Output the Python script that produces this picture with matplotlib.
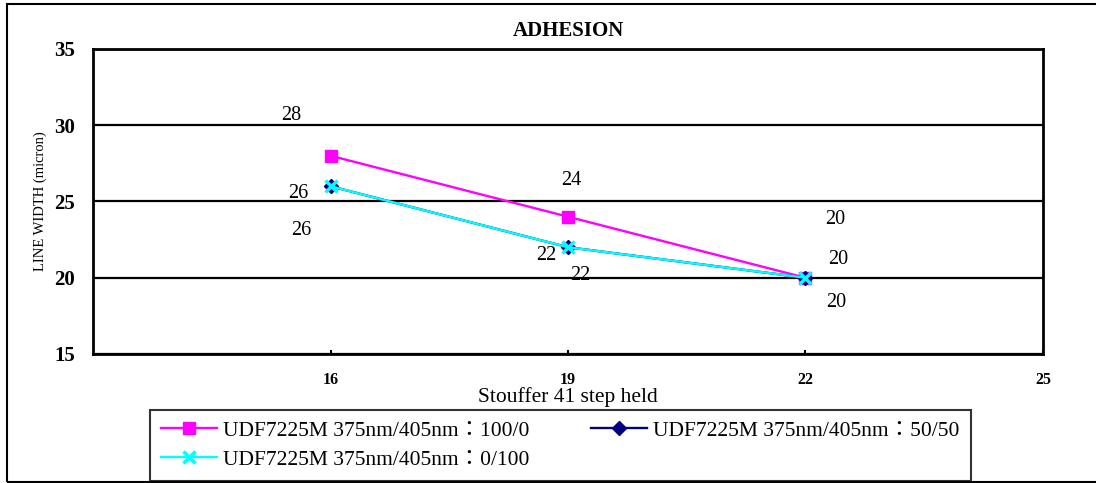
import matplotlib
matplotlib.use("Agg")
import matplotlib.pyplot as plt
from matplotlib.patches import Rectangle

plt.rcParams['font.family'] = ['Liberation Serif', 'Noto Sans CJK JP', 'DejaVu Sans']

# Data
steps = [16, 19, 22]
width_100_0 = [28, 24, 20]
width_50_50 = [26, 22, 20]
width_0_100 = [26, 22, 20]
series_names = [
    "UDF7225M 375nm/405nm\uff1a100/0",
    "UDF7225M 375nm/405nm\uff1a50/50",
    "UDF7225M 375nm/405nm\uff1a0/100",
]
x_ticks = [16, 19, 22, 25]
y_ticks = [15, 20, 25, 30, 35]

fig = plt.figure(figsize=(10.96, 4.83), dpi=100)
ax = fig.add_axes([0.0849, 0.2671, 0.8667, 0.6315])

l1, = ax.plot(steps, width_100_0, color="#ff00ff", lw=1.7, marker="s", ms=9, zorder=3)
l2, = ax.plot(steps, width_50_50, color="#000080", lw=1.7, marker="D", ms=7, zorder=4)
l3, = ax.plot(steps, width_0_100, color="#00ffff", lw=1.7, marker="x", ms=9, mew=2.5, zorder=5)

# data labels (offsets in points, as placed in the original)
off_100_0 = [(-28, 29), (2, 26), (21.5, 42)]
off_50_50 = [(-23, -5), (-16, -6), (23.5, 13)]
off_0_100 = [(-21, -32), (9, -20), (22, -18)]
for vals, offs in [(width_100_0, off_100_0), (width_50_50, off_50_50), (width_0_100, off_0_100)]:
    for x, y, o in zip(steps, vals, offs):
        ax.annotate(str(y), (x, y), xytext=o, textcoords="offset points",
                    ha="center", va="center", fontsize=14.5)

ax.set_xlim(13, 25)
ax.set_ylim(15, 35)
ax.set_xticks(x_ticks)
ax.set_yticks(y_ticks)
ax.tick_params(axis="x", direction="in", length=3, width=1.5, pad=13, labelsize=11.5)
ax.tick_params(axis="y", length=0, pad=13, labelsize=15)
for lab in ax.get_xticklabels() + ax.get_yticklabels():
    lab.set_fontweight("bold")
ax.yaxis.grid(True, color="black", lw=1.6)
for s in ax.spines.values():
    s.set_linewidth(2)
    s.set_color("black")

ax.set_title("ADHESION", fontsize=15, fontweight="bold", pad=9)
ax.set_xlabel("Stouffer 41 step held", fontsize=15.5, labelpad=-1)
ax.set_ylabel("LINE WIDTH (micron)", fontsize=10.5, labelpad=5)

leg = fig.legend([l1, l3, l2], [series_names[0], series_names[2], series_names[1]],
                 ncol=2, loc="upper left", bbox_to_anchor=(0.1369, 0.1511),
                 fancybox=False, edgecolor="black", fontsize=15.5,
                 handlelength=2.6, borderaxespad=0, handletextpad=0.3,
                 labelspacing=0.42, borderpad=0.5, columnspacing=2.85)
leg.get_frame().set_linewidth(1.5)

fig.patches.append(Rectangle((0.0064, 0.002), 1.2, 0.9897, transform=fig.transFigure,
                             fill=False, edgecolor="black", lw=1.5))

fig.savefig("out.png", dpi=100)
